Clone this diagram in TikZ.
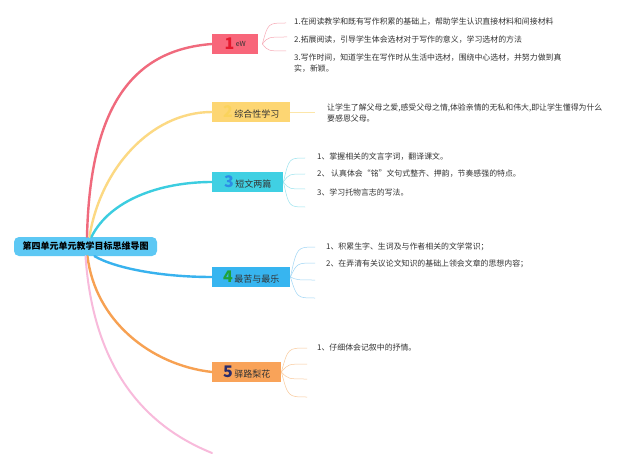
\documentclass[tikz,border=0pt]{standalone}
\usepackage{fontspec}
\newfontfamily\cjk{Noto Sans CJK SC}
\definecolor{txt}{HTML}{333333}
\definecolor{rootfill}{HTML}{5DC8F4}
\definecolor{fillA}{HTML}{F8667A}\definecolor{numA}{HTML}{E5192E}\definecolor{lineA}{HTML}{F06A7D}\definecolor{fanA}{HTML}{F7A8B5}
\definecolor{fillB}{HTML}{FDD673}\definecolor{numB}{HTML}{FAD35C}\definecolor{lineB}{HTML}{FCD983}\definecolor{fanB}{HTML}{FCE6A9}
\definecolor{fillC}{HTML}{40D0E3}\definecolor{numC}{HTML}{2C8DE6}\definecolor{lineC}{HTML}{3CCDE0}\definecolor{fanC}{HTML}{9BE3EE}
\definecolor{fillD}{HTML}{37B5F0}\definecolor{numD}{HTML}{1FA23A}\definecolor{lineD}{HTML}{38B2EE}\definecolor{fanD}{HTML}{9FD5F5}
\definecolor{fillE}{HTML}{F9A359}\definecolor{numE}{HTML}{2A2B6B}\definecolor{lineE}{HTML}{F7A152}\definecolor{fanE}{HTML}{F9C99A}
\definecolor{linePink}{HTML}{F8BADB}
\newcommand\topicnum[2]{{\fontsize{16}{16}\selectfont\bfseries\color{#1}#2}}
\usetikzlibrary{calc}
\begin{document}
\begin{tikzpicture}[x=1pt,y=-1pt,
  branch/.style={line width=2.4pt, line cap=round},
  fan/.style={line width=0.5pt},
  topic/.style={font=\cjk\fontsize{9}{10}\selectfont, text=txt, minimum height=20pt, inner sep=0pt, anchor=west},
  sub/.style={font=\cjk\fontsize{7.9}{11.5}\selectfont, text=txt, anchor=west, inner sep=0pt, align=left},
  rootbox/.style={font=\cjk\bfseries\fontsize{9}{10}\selectfont, text=black, fill=rootfill, rounded corners=5pt, minimum width=143pt, minimum height=19pt, inner sep=0pt}]
\useasboundingbox[fill=white] (0,0) rectangle (640,468);

% root
\node[rootbox] (root) at (85.5,246.5) {第四单元单元教学目标思维导图};

% topics
\node[topic, fill=fillA, minimum width=46pt] (n1) at (212,44) {\topicnum{numA}{1}\,\raisebox{3pt}{\fontsize{7}{7}\selectfont eW}};
\node[topic, fill=fillB, minimum width=78pt] (n2) at (212,112) {\topicnum{numB}{2}\,综合性学习};
\node[topic, fill=fillC, minimum width=71pt] (n3) at (212,182) {\topicnum{numC}{3}\,短文两篇};
\node[topic, fill=fillD, minimum width=78pt] (n4) at (212,277) {\topicnum{numD}{4}\,最苦与最乐};
\node[topic, fill=fillE, minimum width=69pt] (n5) at (212,372) {\topicnum{numE}{5}\,驿路梨花};

% main branches
\draw[branch, lineA] ([xshift=1.5pt]root.north) .. controls (90,110) and (130,50) .. (n1.west);
\draw[branch, lineB] ([xshift=4pt]root.north) .. controls (100,170) and (150,112) .. (n2.west);
\draw[branch, lineC] ([xshift=6pt]root.north) .. controls (110,200) and (160,182) .. (n3.west);
\draw[branch, lineD] ([xshift=9pt]root.south) .. controls (115,268) and (160,277) .. (n4.west);
\draw[branch, lineE] ([xshift=2pt]root.south) .. controls (95,320) and (150,365) .. (n5.west);
\coordinate (pinkend) at (212,453);
\draw[branch, linePink, line width=2pt] ([xshift=0pt]root.south) .. controls (92,350) and (130,420) .. (pinkend);

% subtopic texts
\node[sub] (t11) at (294,22) {1.在阅读教学和既有写作积累的基础上，帮助学生认识直接材料和间接材料};
\node[sub] (t12) at (294,40) {2.拓展阅读，引导学生体会选材对于写作的意义，学习选材的方法};
\node[sub] (t13) at (294,63) {3.写作时间，知道学生在写作时从生活中选材，围绕中心选材，并努力做到真\\实，新颖。};
\node[sub] (t21) at (327,113) {让学生了解父母之爱,感受父母之情,体验亲情的无私和伟大,即让学生懂得为什么\\要感恩父母。};
\node[sub] (t31) at (317,157) {1、掌握相关的文言字词，翻译课文。};
\node[sub] (t32) at (317,174) {2、 认真体会“铭”文句式整齐、押韵，节奏感强的特点。};
\node[sub] (t33) at (317,192) {3、学习托物言志的写法。};
\node[sub] (t41) at (326,247) {1、积累生字、生词及与作者相关的文学常识；};
\node[sub] (t42) at (326,264) {2、在弄清有关议论文知识的基础上领会文章的思想内容；};
\node[sub] (t51) at (317,348) {1、仔细体会记叙中的抒情。};

% fan end coordinates
\coordinate (e11) at (286,23);
\coordinate (e12) at (287,37);
\coordinate (e13) at (286,51);
\coordinate (e21) at (315,112);
\coordinate (e31) at (305,158);
\coordinate (e32) at (305,174);
\coordinate (e33) at (305,189);
\coordinate (e34) at (305,207);
\coordinate (e41) at (315,247);
\coordinate (e42) at (315,263);
\coordinate (e43) at (315,280);
\coordinate (e44) at (315,298);
\coordinate (e51) at (307,348);
\coordinate (e52) at (307,364);
\coordinate (e53) at (307,379);
\coordinate (e54) at (307,397);

% fans
\foreach \e/\y in {e11/23,e12/37,e13/51}
  \draw[fan, fanA] ([xshift=4pt]n1.east) .. controls (268,\y) .. (\e);
\draw[fan, fanB] (n2.east) -- (e21);
\foreach \e/\y in {e31/158,e32/174,e33/189,e34/207}
  \draw[fan, fanC] (n3.east) .. controls (289,\y) .. (\e);
\foreach \e/\y in {e41/247,e42/263,e43/280,e44/298}
  \draw[fan, fanD] (n4.east) .. controls (297,\y) .. (\e);
\foreach \e/\y in {e51/348,e52/364,e53/379,e54/397}
  \draw[fan, fanE] (n5.east) .. controls (288,\y) .. (\e);
\end{tikzpicture}
\end{document}
